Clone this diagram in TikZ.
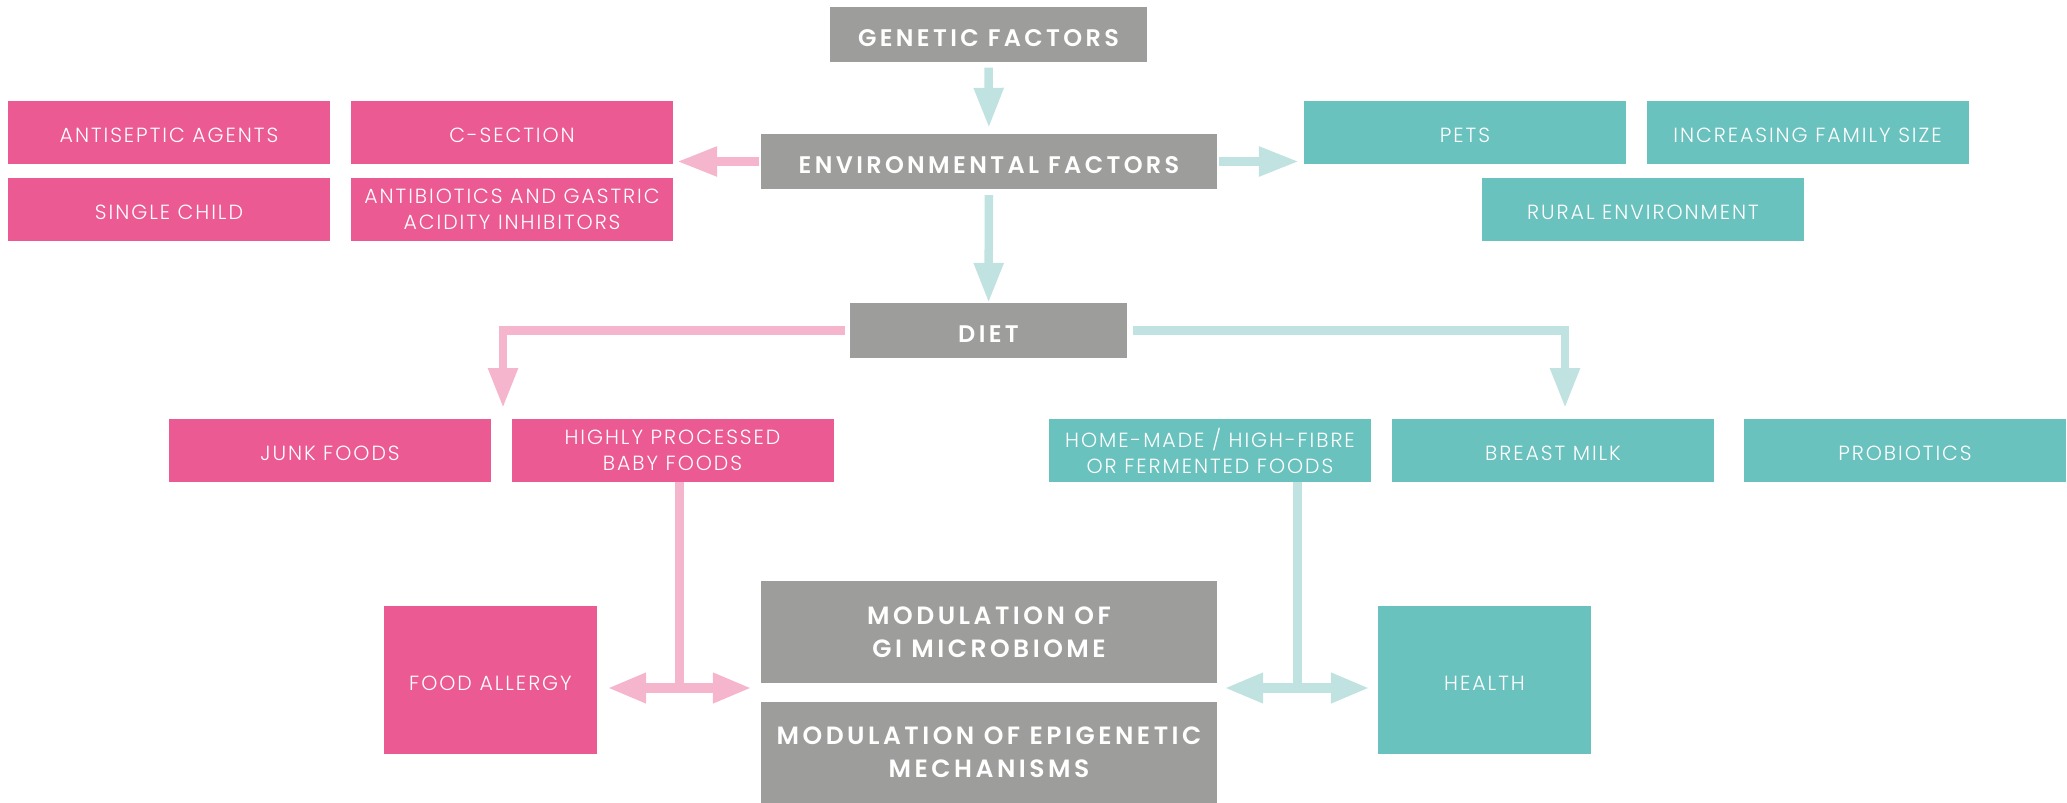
\documentclass[tikz,border=0pt]{standalone}
\usepackage{fontspec}
\setmainfont{Poppins}
\newfontfamily\lightfont{Poppins Light}[LetterSpace=9.5]
\newfontfamily\semifont{Poppins SemiBold}[LetterSpace=14]
\usetikzlibrary{arrows.meta}

\definecolor{boxpink}{HTML}{EB5A93}
\definecolor{boxteal}{HTML}{6AC2BE}
\definecolor{boxgray}{HTML}{9D9D9B}
\definecolor{arrpink}{HTML}{F5B6CD}
\definecolor{arrteal}{HTML}{C0E3E1}

% zero-width strut: lowers the caps a little inside the box
\newcommand{\capsdown}[1]{\rule{0pt}{\dimexpr\fontcharht\font`A+#1\relax}}

\begin{document}
\begin{tikzpicture}[x=1pt, y=-1pt,
    graybox/.style={fill=boxgray, text=white, inner sep=0pt, align=center,
        minimum width=456pt, minimum height=55pt,
        font=\semifont\fontsize{24}{32}\selectfont\capsdown{8pt}},
    bigtext/.style={font=\semifont\fontsize{25}{33}\selectfont\capsdown{12pt}},
    pinkbox/.style={fill=boxpink, text=white, inner sep=0pt, align=center,
        minimum width=322pt, minimum height=63pt,
        font=\lightfont\fontsize{20.5}{26}\selectfont\capsdown{6pt}},
    tealbox/.style={pinkbox, fill=boxteal},
    pinkarrow/.style={draw=arrpink, line width=8.5pt, -{Triangle[length=40pt, width=28pt]}},
    tealarrow/.style={pinkarrow, draw=arrteal},
    twoway/.style={{Triangle[length=39pt, width=28pt]}-{Triangle[length=39pt, width=28pt]}},
]

    % --- Canvas (image pixels, y downwards) ---
    \useasboundingbox (0,0) rectangle (2067,803);

    % --- Main column ---
    \node[graybox, minimum width=317pt] (genetic) at (988.5,34) {GENETIC FACTORS};
    \node[graybox] (env) at (989,161.5) {ENVIRONMENTAL FACTORS};
    \node[graybox, minimum width=277pt] (diet) at (988.5,330.5) {DIET};
    \node[graybox, bigtext, minimum height=102pt] (modgi) at (989,632) {MODULATION OF\\GI MICROBIOME};
    \node[graybox, bigtext, minimum height=101pt] (modepi) at (989,752.5) {MODULATION OF EPIGENETIC\\MECHANISMS};

    % --- Environmental factors ---
    \node[pinkbox] (antiseptic) at (169,132.5) {ANTISEPTIC AGENTS};
    \node[pinkbox] (csection) at (512,132.5) {C-SECTION};
    \node[pinkbox] (single) at (169,209.5) {SINGLE CHILD};
    \node[pinkbox] (antibiotics) at (512,209.5) {ANTIBIOTICS AND GASTRIC\\ACIDITY INHIBITORS};
    \node[tealbox] (pets) at (1465,132.5) {PETS};
    \node[tealbox] (family) at (1807.5,132.5) {INCREASING FAMILY SIZE};
    \node[tealbox] (rural) at (1643,209.5) {RURAL ENVIRONMENT};

    % --- Diet ---
    \node[pinkbox] (junk) at (330,450.5) {JUNK FOODS};
    \node[pinkbox] (hpbf) at (672.5,450.5) {HIGHLY PROCESSED\\BABY FOODS};
    \node[tealbox] (homemade) at (1210,450.5) {HOME-MADE / HIGH-FIBRE\\OR FERMENTED FOODS};
    \node[tealbox] (breast) at (1553,450.5) {BREAST MILK};
    \node[tealbox] (probiotics) at (1905,450.5) {PROBIOTICS};

    % --- Outcomes ---
    \node[pinkbox, minimum width=213pt, minimum height=148pt] (allergy) at (490.5,680) {FOOD ALLERGY};
    \node[tealbox, minimum width=213pt, minimum height=148pt] (health) at (1484.5,680) {HEALTH};

    % --- Arrow end points ---
    \coordinate (pinkdrop) at (503,408);
    \coordinate (tealdrop) at (1565,408);
    \coordinate (pinkjoin) at (679,688);
    \coordinate (tealjoin) at (1297.5,688);

    % --- Arrows ---
    \draw[tealarrow, shorten <=6pt, shorten >=6pt] (genetic) -- (env);
    \draw[pinkarrow, shorten <=2pt, shorten >=4pt] (env.west) -- (csection.east |- env.west);
    \draw[tealarrow, shorten <=2pt, shorten >=5pt] (env.east) -- (pets.west |- env.east);
    \draw[tealarrow, shorten <=6pt] (env) -- (diet);
    \draw[pinkarrow, shorten <=5pt] (diet.west) -| (pinkdrop);
    \draw[tealarrow, shorten <=6pt] (diet.east) -| (tealdrop);

    \draw[draw=arrpink, line width=9pt] (hpbf.south -| pinkjoin) -- (pinkjoin);
    \draw[draw=arrpink, line width=10pt, twoway, shorten <=10pt, shorten >=9pt]
        (allergy.east |- pinkjoin) -- (modgi.west |- pinkjoin);
    \draw[draw=arrteal, line width=9pt] (homemade.south -| tealjoin) -- (tealjoin);
    \draw[draw=arrteal, line width=10pt, twoway, shorten <=7pt, shorten >=8pt]
        (modgi.east |- tealjoin) -- (health.west |- tealjoin);

\end{tikzpicture}
\end{document}
